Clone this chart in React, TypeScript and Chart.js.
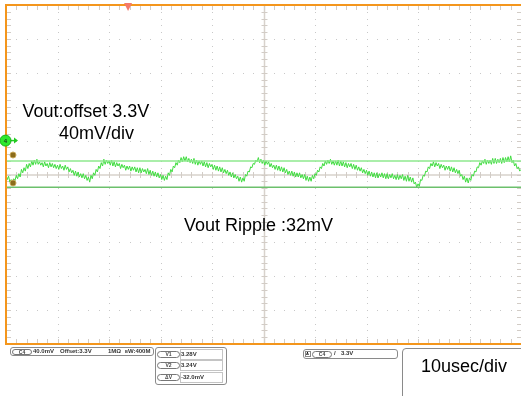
import React, { useEffect, useRef } from 'react';
import { Chart, registerables } from 'chart.js';

Chart.register(...registerables);

// ---- data (read from the scope capture) ----
const SAMPLE_STEP_US = 0.25; // sample spacing of the trace, µs
const RIPPLE_MV = [
  0, -6, -2, -9, -6, -11, -5, -7, -1, -5, 1, -3, 6, 2, 8, 4, 12, 7, 13, 9,
  16, 11, 17, 12, 18, 12, 15, 11, 14, 9, 15, 10, 13, 8, 14, 9, 13, 8, 12, 7,
  11, 6, 12, 7, 10, 5, 11, 6, 9, 3, 7, 2, 5, -1, 4, -2, 3, -3, 1, -4,
  1, -5, -1, -7, -3, -9, -1, -5, 2, -1, 6, 3, 10, 7, 14, 10, 18, 12, 17, 13,
  16, 11, 17, 10, 15, 9, 14, 10, 13, 7, 12, 8, 11, 5, 10, 6, 10, 4, 9, 5,
  9, 3, 8, 2, 8, 2, 7, 3, 6, 1, 7, 0, 5, -1, 4, -2, 3, -3, 2, -4,
  0, -6, -1, -7, -2, -6, 2, -1, 6, 3, 10, 8, 14, 11, 17, 14, 20, 15, 21, 16,
  21, 15, 19, 14, 18, 13, 19, 12, 17, 11, 16, 12, 16, 10, 15, 9, 14, 8, 13, 9,
  12, 6, 11, 5, 10, 4, 9, 3, 8, 2, 6, 1, 5, -1, 3, -3, 2, -4, 0, -5,
  -2, -8, -3, -9, -4, -8, 0, -2, 4, 3, 9, 8, 13, 12, 17, 15, 20, 14, 18, 13,
  17, 11, 16, 12, 15, 9, 13, 8, 11, 6, 11, 5, 10, 4, 9, 3, 8, 2, 6, 0,
  4, -1, 4, -2, 3, -3, 2, -3, 2, -4, 0, -5, 0, -7, -2, -8, -3, -8, -1, -5,
  1, -1, 5, 3, 9, 7, 13, 10, 16, 12, 17, 13, 18, 12, 16, 11, 16, 11, 17, 10,
  16, 10, 15, 9, 14, 8, 13, 9, 13, 7, 12, 6, 11, 5, 9, 4, 8, 2, 6, 1,
  5, -1, 4, -2, 3, -3, 2, -4, 2, -4, 1, -3, 2, -4, 1, -5, 1, -5, 0, -4,
  1, -5, -1, -6, 0, -6, -1, -5, 0, -7, -2, -8, -1, -8, -3, -9, -4, -11, -9, -15,
  -11, -14, -6, -7, -1, -2, 4, 3, 9, 7, 13, 10, 15, 9, 14, 10, 13, 7, 12, 8,
  11, 5, 10, 6, 10, 4, 9, 3, 8, 2, 6, 1, 5, -2, 0, -6, -2, -9, -4, -10,
  -4, -7, 0, -2, 4, 3, 9, 8, 14, 11, 16, 13, 18, 12, 17, 13, 17, 12, 19, 13,
  19, 13, 18, 14, 19, 13, 20, 14, 20, 15, 21, 15, 22, 14, 17, 10, 13, 7, 9, 4,
  6,
];
const CURSOR_V1_MV = 16;
const CURSOR_V2_MV = -15;
const TIME_DIV_US = 10;
const VOLT_DIV_MV = 40;
const X_RANGE = [0, 100];
const Y_RANGE = [-200, 200];
const TRIGGER_TIME_US = 23.7;
const CHANNEL_MARKER_MV = 40;
const CURSOR_MARKERS_MV = [23, -10];

const FONT = '"Liberation Sans", Arial, Helvetica, sans-serif';

const scopePlugin = {
  id: 'scopeDecor',
  beforeDatasetsDraw(chart: any) {
    const { ctx, chartArea: a, scales } = chart;
    const xs = scales.x;
    const ys = scales.y;
    const xMinor = TIME_DIV_US / 5;
    const yMinor = VOLT_DIV_MV / 5;
    const xMid = (X_RANGE[0] + X_RANGE[1]) / 2;
    const yMid = (Y_RANGE[0] + Y_RANGE[1]) / 2;
    ctx.save();
    // dotted graticule
    ctx.fillStyle = '#c8c8c8';
    for (let t = X_RANGE[0] + TIME_DIV_US; t < X_RANGE[1] - 0.01; t += TIME_DIV_US) {
      if (Math.abs(t - xMid) < 0.01) continue;
      const px = Math.round(xs.getPixelForValue(t));
      for (let v = Y_RANGE[0]; v <= Y_RANGE[1]; v += yMinor) {
        const py = Math.round(ys.getPixelForValue(v));
        ctx.fillRect(px, py, 1, 1);
      }
    }
    for (let v = Y_RANGE[0] + VOLT_DIV_MV; v < Y_RANGE[1]; v += VOLT_DIV_MV) {
      if (Math.abs(v - yMid) < 0.01) continue;
      const py = Math.round(ys.getPixelForValue(v));
      for (let t = X_RANGE[0]; t <= X_RANGE[1]; t += xMinor) {
        const px = Math.round(xs.getPixelForValue(t));
        ctx.fillRect(px, py, 1, 1);
      }
    }
    // centre lines
    ctx.strokeStyle = '#d8d2cc';
    ctx.lineWidth = 1.5;
    const cx = Math.round(xs.getPixelForValue(xMid)) + 0.5;
    const cy = Math.round(ys.getPixelForValue(yMid));
    ctx.beginPath();
    ctx.moveTo(cx, a.top);
    ctx.lineTo(cx, a.bottom);
    ctx.moveTo(a.left, cy);
    ctx.lineTo(a.right, cy);
    ctx.stroke();
    // minor ticks on centre lines and edges
    ctx.strokeStyle = '#d2ccc6';
    ctx.lineWidth = 1;
    ctx.beginPath();
    for (let v = Y_RANGE[0]; v <= Y_RANGE[1]; v += yMinor) {
      const py = Math.round(ys.getPixelForValue(v)) + 0.5;
      ctx.moveTo(cx - 3, py);
      ctx.lineTo(cx + 3, py);
      ctx.moveTo(a.left, py);
      ctx.lineTo(a.left + 5, py);
      ctx.moveTo(a.right - 4, py);
      ctx.lineTo(a.right, py);
    }
    for (let t = X_RANGE[0]; t <= X_RANGE[1]; t += xMinor) {
      const px = Math.round(xs.getPixelForValue(t)) + 0.5;
      ctx.moveTo(px, cy - 3);
      ctx.lineTo(px, cy + 3);
      ctx.moveTo(px, a.top);
      ctx.lineTo(px, a.top + 5);
      ctx.moveTo(px, a.bottom - 5);
      ctx.lineTo(px, a.bottom);
    }
    ctx.stroke();
    ctx.restore();
  },
  afterDatasetsDraw(chart: any) {
    const { ctx, chartArea: a, scales } = chart;
    const xs = scales.x;
    const ys = scales.y;
    ctx.save();
    // orange frame
    ctx.strokeStyle = '#f4961c';
    ctx.lineWidth = 2;
    ctx.beginPath();
    ctx.moveTo(a.right + 2, a.top);
    ctx.lineTo(a.left, a.top);
    ctx.lineTo(a.left, a.bottom);
    ctx.lineTo(a.right + 2, a.bottom);
    ctx.stroke();
    // trigger position marker
    const tx = xs.getPixelForValue(TRIGGER_TIME_US);
    ctx.fillStyle = '#f47a6a';
    ctx.beginPath();
    ctx.moveTo(tx - 4, a.top - 2);
    ctx.lineTo(tx + 4, a.top - 2);
    ctx.lineTo(tx, a.top + 6);
    ctx.closePath();
    ctx.fill();
    // cursor markers
    for (const mv of CURSOR_MARKERS_MV) {
      const py = ys.getPixelForValue(mv);
      ctx.fillStyle = '#8c6c1c';
      ctx.strokeStyle = '#c9a95a';
      ctx.lineWidth = 1;
      ctx.beginPath();
      ctx.arc(a.left + 7, py, 3, 0, Math.PI * 2);
      ctx.fill();
      ctx.stroke();
    }
    // channel marker
    const my = ys.getPixelForValue(CHANNEL_MARKER_MV);
    ctx.strokeStyle = '#22cc22';
    ctx.fillStyle = '#22cc22';
    ctx.lineWidth = 1.5;
    ctx.beginPath();
    ctx.moveTo(a.left + 4, my);
    ctx.lineTo(a.left + 10, my);
    ctx.stroke();
    ctx.beginPath();
    ctx.moveTo(a.left + 12, my);
    ctx.lineTo(a.left + 8, my - 3);
    ctx.lineTo(a.left + 8, my + 3);
    ctx.closePath();
    ctx.fill();
    ctx.fillStyle = '#2ee82e';
    ctx.strokeStyle = '#15b015';
    ctx.lineWidth = 1;
    ctx.beginPath();
    ctx.arc(a.left - 0.5, my, 5.5, 0, Math.PI * 2);
    ctx.fill();
    ctx.stroke();
    ctx.fillStyle = '#1a3a1a';
    ctx.font = 'bold 6px ' + FONT;
    ctx.textAlign = 'center';
    ctx.textBaseline = 'middle';
    ctx.fillText('4', a.left - 0.5, my + 0.5);
    ctx.restore();
  },
};

const abs = (o: React.CSSProperties): React.CSSProperties => ({ position: 'absolute', ...o });

function Pill({ left, top, w, h, text }: { left: number; top: number; w: number; h: number; text: string }) {
  return (
    <div
      style={abs({
        left,
        top,
        width: w,
        height: h,
        boxSizing: 'border-box',
        border: '1px solid #777',
        borderRadius: h / 2,
        fontSize: 5,
        lineHeight: h - 2 + 'px',
        textAlign: 'center',
        color: '#444',
        fontWeight: 'bold',
      })}
    >
      {text}
    </div>
  );
}

export default function App() {
  const ref = useRef<HTMLCanvasElement | null>(null);

  useEffect(() => {
    document.body.style.margin = '0';
    document.body.style.background = '#ffffff';
    const canvas = ref.current;
    if (!canvas) return;
    const trace = RIPPLE_MV.map((v, i) => ({ x: i * SAMPLE_STEP_US, y: v }));
    const chart = new Chart(canvas, {
      type: 'line',
      data: {
        datasets: [
          {
            data: [
              { x: X_RANGE[0], y: CURSOR_V1_MV },
              { x: X_RANGE[1], y: CURSOR_V1_MV },
            ],
            borderColor: '#8ee88e',
            borderWidth: 1.5,
            pointRadius: 0,
          },
          {
            data: [
              { x: X_RANGE[0], y: CURSOR_V2_MV },
              { x: X_RANGE[1], y: CURSOR_V2_MV },
            ],
            borderColor: '#6cc06c',
            borderWidth: 1.5,
            pointRadius: 0,
          },
          {
            data: trace,
            borderColor: '#3fdc3f',
            borderWidth: 1,
            pointRadius: 0,
            tension: 0,
          },
        ],
      },
      options: {
        responsive: false,
        animation: false,
        events: [],
        layout: { padding: { left: 6, top: 5, right: 0, bottom: 52 } },
        plugins: { legend: { display: false }, tooltip: { enabled: false }, title: { display: false } },
        scales: {
          x: { type: 'linear', min: X_RANGE[0], max: X_RANGE[1], display: false },
          y: { type: 'linear', min: Y_RANGE[0], max: Y_RANGE[1], display: false },
        },
      },
      plugins: [scopePlugin],
    });
    return () => chart.destroy();
  }, []);

  const small: React.CSSProperties = { fontSize: 6, fontWeight: 'bold', color: '#333', lineHeight: '7px', whiteSpace: 'nowrap' };

  return (
    <div style={{ position: 'absolute', left: 0, top: 0, width: 521, height: 396, overflow: 'hidden', fontFamily: FONT, background: '#fff' }}>
      <canvas ref={ref} width={521} height={396} style={{ display: 'block', width: 521, height: 396 }} />
      <div style={abs({ left: 22.5, top: 101.8, fontSize: 18, lineHeight: '18px', color: '#000', whiteSpace: 'nowrap' })}>Vout:offset 3.3V</div>
      <div style={abs({ left: 59, top: 124.3, fontSize: 18, lineHeight: '18px', color: '#000', whiteSpace: 'nowrap' })}>40mV/div</div>
      <div style={abs({ left: 184, top: 216.3, fontSize: 18, lineHeight: '18px', color: '#000', whiteSpace: 'nowrap' })}>Vout Ripple :32mV</div>

      {/* channel box */}
      <div style={abs({ left: 10, top: 347, width: 144, height: 9, boxSizing: 'border-box', border: '1px solid #8a8a8a', borderRadius: 3 })} />
      <Pill left={12} top={348.5} w={20} h={6} text="C4" />
      <div style={abs({ left: 33, top: 348, ...small })}>40.0mV</div>
      <div style={abs({ left: 60, top: 348, ...small })}>Offset:3.3V</div>
      <div style={abs({ left: 108, top: 348, ...small })}>1MΩ</div>
      <div style={abs({ left: 125, top: 348, ...small })}>
        <span style={{ fontSize: 4, verticalAlign: 'top' }}>B</span>W:400M
      </div>

      {/* cursor box */}
      <div style={abs({ left: 155, top: 347, width: 72, height: 38, boxSizing: 'border-box', border: '1px solid #8a8a8a', borderRadius: 3 })} />
      {[
        ['V1', '3.28V'],
        ['V2', '3.24V'],
        ['ΔV', '-32.0mV'],
      ].map((r, i) => (
        <React.Fragment key={r[0]}>
          <div style={abs({ left: 180, top: 348.5 + i * 11.5, width: 43, height: 11, boxSizing: 'border-box', border: '1px solid #c4c4c4' })} />
          <Pill left={157} top={350.5 + i * 11.5} w={23} h={7} text={r[0]} />
          <div style={abs({ left: 181, top: 350.5 + i * 11.5, ...small })}>{r[1]}</div>
        </React.Fragment>
      ))}

      {/* trigger box */}
      <div style={abs({ left: 303, top: 349, width: 95, height: 10, boxSizing: 'border-box', border: '1px solid #8a8a8a', borderRadius: 3 })} />
      <div style={abs({ left: 304.5, top: 351, width: 6, height: 6, boxSizing: 'border-box', border: '1px solid #888', fontSize: 4, lineHeight: '4px', textAlign: 'center', fontWeight: 'bold' })}>A</div>
      <Pill left={312} top={350.5} w={20} h={7} text="C4" />
      <div style={abs({ left: 334, top: 350, ...small })}>/</div>
      <div style={abs({ left: 341, top: 350, ...small })}>3.3V</div>

      {/* timebase box */}
      <div style={abs({ left: 402, top: 348, width: 130, height: 60, boxSizing: 'border-box', border: '1px solid #8a8a8a', borderRadius: 4 })} />
      <div style={abs({ left: 421, top: 356.8, fontSize: 18, lineHeight: '18px', color: '#000', whiteSpace: 'nowrap' })}>10usec/div</div>
    </div>
  );
}
